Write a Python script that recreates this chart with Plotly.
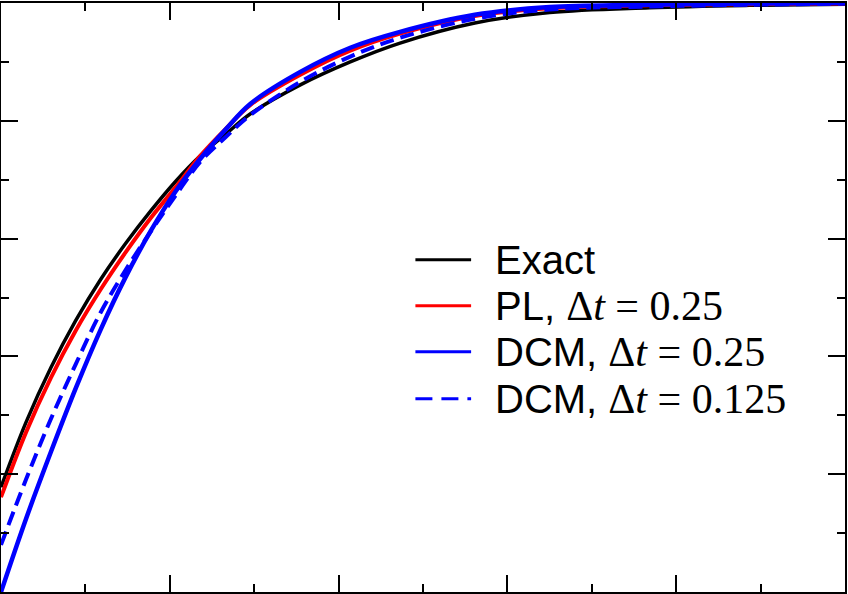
import plotly.graph_objects as go

# values (x in [0, 5], y in [0, 1])
t = [0.0, 0.148, 0.296, 0.443, 0.591, 0.739, 0.887, 1.034, 1.182, 1.330, 1.478,
     1.773, 2.069, 2.364, 2.807, 3.251, 3.842, 4.433, 5.0]

exact_u = [0.178, 0.288, 0.381, 0.461, 0.531, 0.592, 0.647, 0.697, 0.741, 0.777, 0.812,
           0.861, 0.900, 0.932, 0.966, 0.984, 0.992, 0.996, 0.998]
pl_u = [0.161, 0.271, 0.364, 0.444, 0.514, 0.577, 0.635, 0.687, 0.741, 0.786, 0.827,
        0.878, 0.919, 0.948, 0.978, 0.991, 0.996, 0.998, 0.999]
dcm25_u = [0.0, 0.124, 0.238, 0.346, 0.446, 0.535, 0.613, 0.680, 0.736, 0.785, 0.829,
           0.883, 0.924, 0.951, 0.980, 0.993, 0.997, 0.999, 1.0]
dcm125_u = [0.080, 0.191, 0.294, 0.387, 0.475, 0.547, 0.612, 0.673, 0.731, 0.772, 0.810,
            0.866, 0.909, 0.941, 0.973, 0.989, 0.994, 0.997, 0.999]

serif = 'style="font-family:Liberation Serif;font-size:42px"'
labels = [
    "Exact",
    "PL, <span %s>Δ<i>t</i> = 0.25</span>" % serif,
    "DCM, <span %s>Δ<i>t</i> = 0.25</span>" % serif,
    "DCM, <span %s>Δ<i>t</i> = 0.125</span>" % serif,
]
colors = ["black", "#ff0000", "#0000ff", "#0000ff"]
dashes = ["solid", "solid", "solid", "17px,9px"]

fig = go.Figure()

series = [exact_u, pl_u, dcm25_u, dcm125_u]
widths = [3.5, 4, 4.5, 4]
curve_dash = ["solid", "solid", "solid", "14px,7px"]
order = [0, 1, 3, 2]
for i in order:
    fig.add_trace(go.Scatter(x=t, y=series[i], mode="lines", line_shape="spline",
                             line=dict(color=colors[i], width=widths[i], dash=curve_dash[i]),
                             showlegend=False))

# hand drawn legend, like the original
row_y = [0.564, 0.486, 0.408, 0.328]
for i in range(4):
    fig.add_shape(type="line", xref="paper", yref="paper",
                  x0=0.491, x1=0.557, y0=row_y[i], y1=row_y[i],
                  line=dict(color=colors[i], width=3, dash=dashes[i]))
    fig.add_annotation(x=0.583, y=row_y[i], xref="paper", yref="paper",
                       text=labels[i], showarrow=False, xanchor="left", yanchor="middle",
                       font=dict(family="Liberation Sans", size=40, color="black"))

axis = dict(showline=True, linecolor="black", linewidth=2, mirror="ticks",
            ticks="inside", ticklen=17, tickwidth=1.5, tickcolor="black",
            showticklabels=False, showgrid=False, zeroline=False)

fig.update_xaxes(range=[0, 5], dtick=1, tick0=0,
                 minor=dict(dtick=0.5, ticks="inside", ticklen=8, tickwidth=1.5, tickcolor="black", showgrid=False),
                 **axis)
fig.update_yaxes(range=[0, 1], dtick=0.2, tick0=0,
                 minor=dict(dtick=0.1, ticks="inside", ticklen=8, tickwidth=1.5, tickcolor="black", showgrid=False),
                 **axis)

fig.update_layout(width=848, height=594, margin=dict(l=1, r=2, t=1, b=2),
                  plot_bgcolor="white", paper_bgcolor="white")

fig.write_html("out.html", config={"displayModeBar": False},
               post_script="document.body.style.margin='0px';")
